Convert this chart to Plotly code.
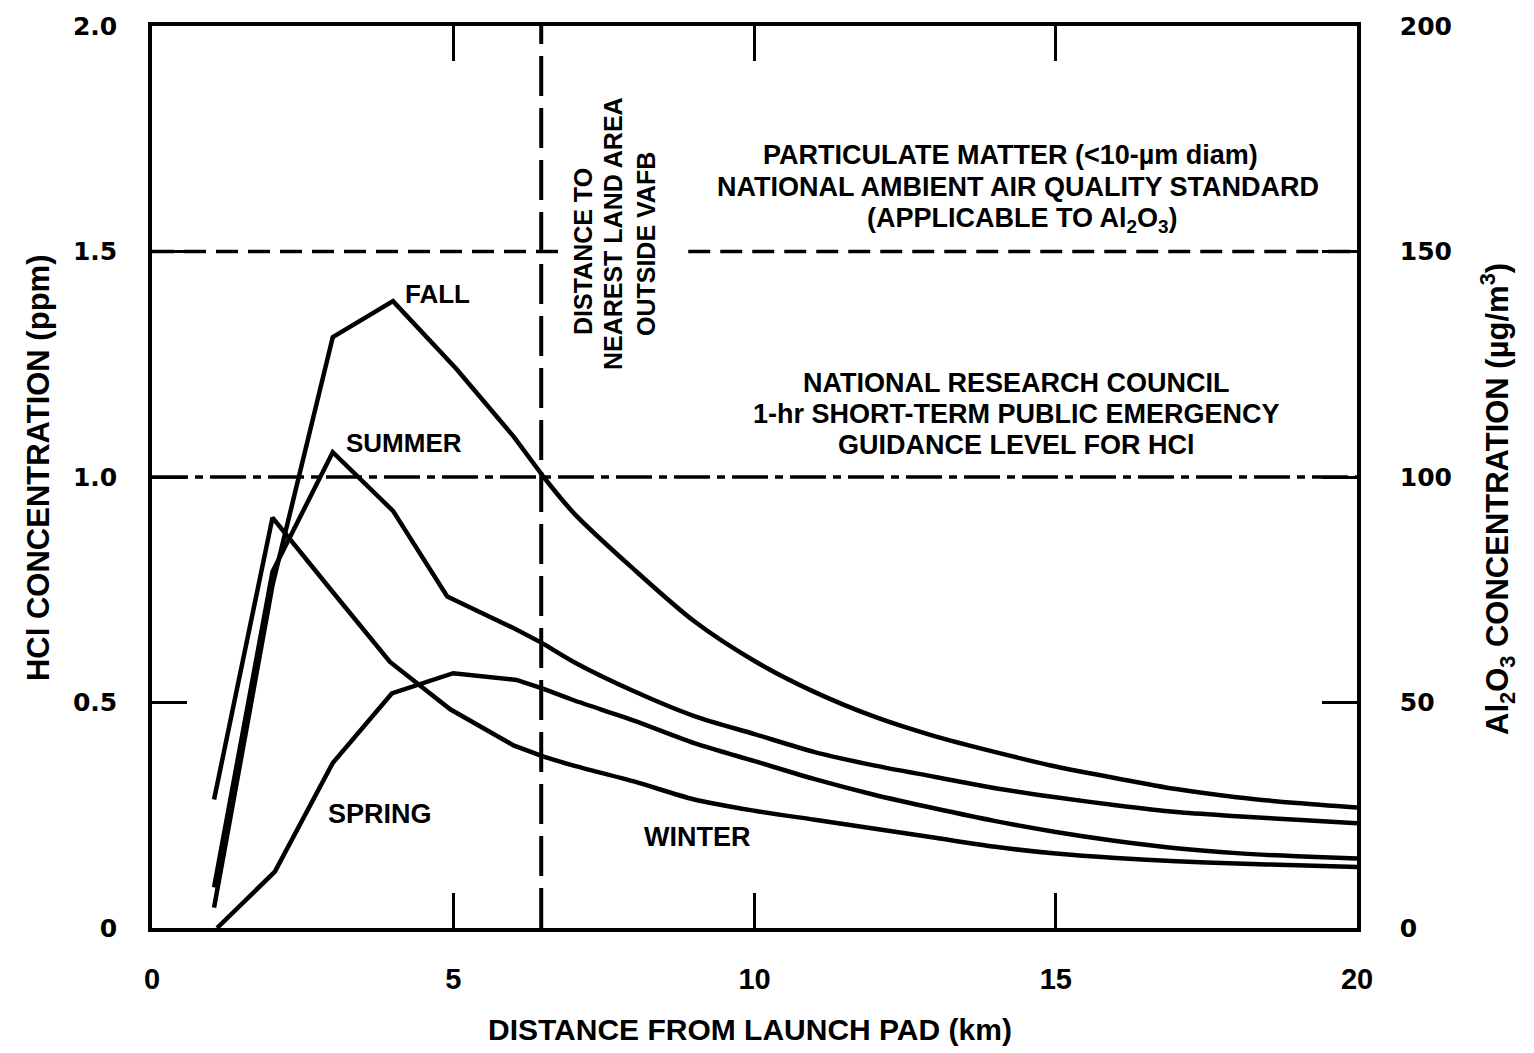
import plotly.graph_objects as go

# ---------------- data ----------------
fall_x = [1.03, 2.0, 3.0, 4.0, 5.05, 6.0, 6.5, 7, 8, 9, 10, 11, 12, 13, 14, 15, 16, 17, 18, 19, 20]
fall_y = [0.045, 0.76, 1.31, 1.39, 1.24, 1.09, 1.0, 0.92, 0.795, 0.68, 0.592, 0.523, 0.468, 0.425,
          0.39, 0.358, 0.332, 0.308, 0.29, 0.277, 0.267]

summer_x = [1.03, 2.0, 3.0, 4.0, 4.9, 6.0, 6.5, 7, 8, 9, 10, 11, 12, 13, 14, 15, 16, 17, 18, 19, 20]
summer_y = [0.09, 0.79, 1.055, 0.925, 0.735, 0.665, 0.63, 0.59, 0.525, 0.47, 0.43, 0.39, 0.36, 0.335,
            0.31, 0.29, 0.272, 0.257, 0.248, 0.24, 0.232]

winter_x = [1.03, 2.0, 3.0, 3.95, 4.95, 6.0, 6.5, 7, 8, 9, 10, 11, 12, 13, 14, 15, 16, 17, 18, 19, 20]
winter_y = [0.285, 0.91, 0.745, 0.59, 0.485, 0.405, 0.38, 0.36, 0.325, 0.285, 0.26, 0.24, 0.22, 0.2,
            0.18, 0.165, 0.155, 0.148, 0.143, 0.139, 0.135]

spring_x = [1.08, 2.04, 3.0, 3.98, 5.0, 6.05, 6.5, 7, 8, 9, 10, 11, 12, 13, 14, 15, 16, 17, 18, 19, 20]
spring_y = [0.0, 0.125, 0.366, 0.52, 0.565, 0.55, 0.53, 0.505, 0.46, 0.41, 0.37, 0.33, 0.295, 0.265,
            0.237, 0.213, 0.193, 0.177, 0.166, 0.159, 0.154]

NEAREST_LAND_KM = 6.46      # distance to nearest land area outside VAFB
NRC_HCL_PPM = 1.0           # NRC 1-hr guidance level for HCl
PM10_STD_UG = 150           # particulate matter standard (Al2O3 axis)

x_ticks = [0, 5, 10, 15, 20]
y_ticks = [0, 0.5, 1.0, 1.5, 2.0]
y_ticklabels = ["0", "0.5", "1.0", "1.5", "2.0"]
y2_ticks = [0, 50, 100, 150, 200]
y2_ticklabels = ["0", "50", "100", "150", "200"]

# ---------------- figure ----------------
fig = go.Figure()
line_style = dict(color="black", width=4.5)
for xs, ys, nm in [(fall_x, fall_y, "FALL"), (summer_x, summer_y, "SUMMER"),
                   (winter_x, winter_y, "WINTER"), (spring_x, spring_y, "SPRING")]:
    k = xs.index(6.5)
    # near-field: straight segments between computed points
    fig.add_trace(go.Scatter(x=xs[:k + 1], y=ys[:k + 1], mode="lines", name=nm, line=line_style,
                             showlegend=False, hoverinfo="x+y+name"))
    # far-field: smooth decay curve
    fig.add_trace(go.Scatter(x=xs[k:], y=ys[k:], mode="lines", name=nm,
                             line=dict(color="black", width=4.5, shape="spline", smoothing=0.8),
                             showlegend=False, hoverinfo="x+y+name"))

# NRC guidance level (dash-dot)
fig.add_trace(go.Scatter(x=[0, 20], y=[NRC_HCL_PPM, NRC_HCL_PPM], mode="lines",
                         line=dict(color="black", width=3.5, dash="36px,7px,8px,7px"),
                         showlegend=False, hoverinfo="skip"))
# PM standard (dashed, on Al2O3 axis, interrupted by the rotated text)
fig.add_trace(go.Scatter(x=[0, 6.75, None, 8.9, 20],
                         y=[PM10_STD_UG, PM10_STD_UG, None, PM10_STD_UG, PM10_STD_UG],
                         mode="lines", yaxis="y2", connectgaps=False,
                         line=dict(color="black", width=3.5, dash="22px,10px"),
                         showlegend=False, hoverinfo="skip"))
# Distance to nearest land area (long dash vertical)
fig.add_trace(go.Scatter(x=[NEAREST_LAND_KM, NEAREST_LAND_KM], y=[0, 2.0], mode="lines",
                         line=dict(color="black", width=4, dash="40px,12px"),
                         showlegend=False, hoverinfo="skip"))

bold = dict(family="Liberation Sans, Arial, sans-serif", color="black", weight="bold")

def ann(text, x, y, size, xref="x", yref="y", angle=0):
    fig.add_annotation(text=text, x=x, y=y, xref=xref, yref=yref, showarrow=False,
                       textangle=angle, xanchor="center", yanchor="middle",
                       font=dict(size=size, **bold))

# px helpers (plot area: x 152..1357, y 22..928)
def dx(px):
    return (px - 152) / 60.25

def dy(py):
    return (928 - py) / 453.0

ann("FALL", dx(437), dy(291), 26)
ann("SUMMER", dx(404), dy(441), 26)
ann("SPRING", dx(380), dy(813), 27)
ann("WINTER", dx(697), dy(837), 27)

ann("DISTANCE TO", dx(583), dy(249), 25, angle=-90)
ann("NEAREST LAND AREA", dx(613), dy(231), 25, angle=-90)
ann("OUTSIDE VAFB", dx(646), dy(241), 25, angle=-90)

ann("PARTICULATE MATTER (&lt;10-µm diam)", dx(1010), dy(152), 27)
ann("NATIONAL AMBIENT AIR QUALITY STANDARD", dx(1018), dy(184), 27)
ann("(APPLICABLE TO Al<sub>2</sub>O<sub>3</sub>)", dx(1022), dy(217), 27)

ann("NATIONAL RESEARCH COUNCIL", dx(1016), dy(381), 27)
ann("1-hr SHORT-TERM PUBLIC EMERGENCY", dx(1016), dy(412), 27)
ann("GUIDANCE LEVEL FOR HCl", dx(1016), dy(443), 27)

# axis titles
ann("HCl CONCENTRATION (ppm)", (38 - 152) / 1205, (928 - 466) / 906, 31, xref="paper", yref="paper", angle=-90)
ann("Al<sub>2</sub>O<sub>3</sub> CONCENTRATION (µg/m<sup>3</sup>)", (1498 - 152) / 1205, (928 - 497) / 906, 31,
    xref="paper", yref="paper", angle=-90)
ann("DISTANCE FROM LAUNCH PAD (km)", (750 - 152) / 1205, (928 - 1030) / 906, 30, xref="paper", yref="paper")

axis_common = dict(showgrid=False, zeroline=False, showline=True, linecolor="black", linewidth=3.5,
                   ticks="inside", ticklen=35, tickwidth=3, tickcolor="black")

fig.update_layout(
    width=1534, height=1053, autosize=False,
    margin=dict(l=152, r=177, t=22, b=125),
    paper_bgcolor="white", plot_bgcolor="white",
    xaxis=dict(range=[0, 20], tickvals=x_ticks, ticktext=[str(v) for v in x_ticks], mirror="ticks",
               tickfont=dict(size=29, **bold), ticklabelstandoff=22, **axis_common),
    yaxis=dict(range=[0, 2.0], tickvals=y_ticks, ticktext=y_ticklabels, mirror="ticks",
               tickfont=dict(size=25, family="DejaVu Sans", color="black", weight="bold"),
               ticklabelstandoff=26, **axis_common),
    yaxis2=dict(range=[0, 200], tickvals=y2_ticks, ticktext=y2_ticklabels, overlaying="y", side="right",
                tickfont=dict(size=25, family="DejaVu Sans", color="black", weight="bold"),
                ticklabelstandoff=34, **axis_common),
)

fig.write_html("out.html", config={"displayModeBar": False},
               post_script="document.body.style.margin='0px';")
